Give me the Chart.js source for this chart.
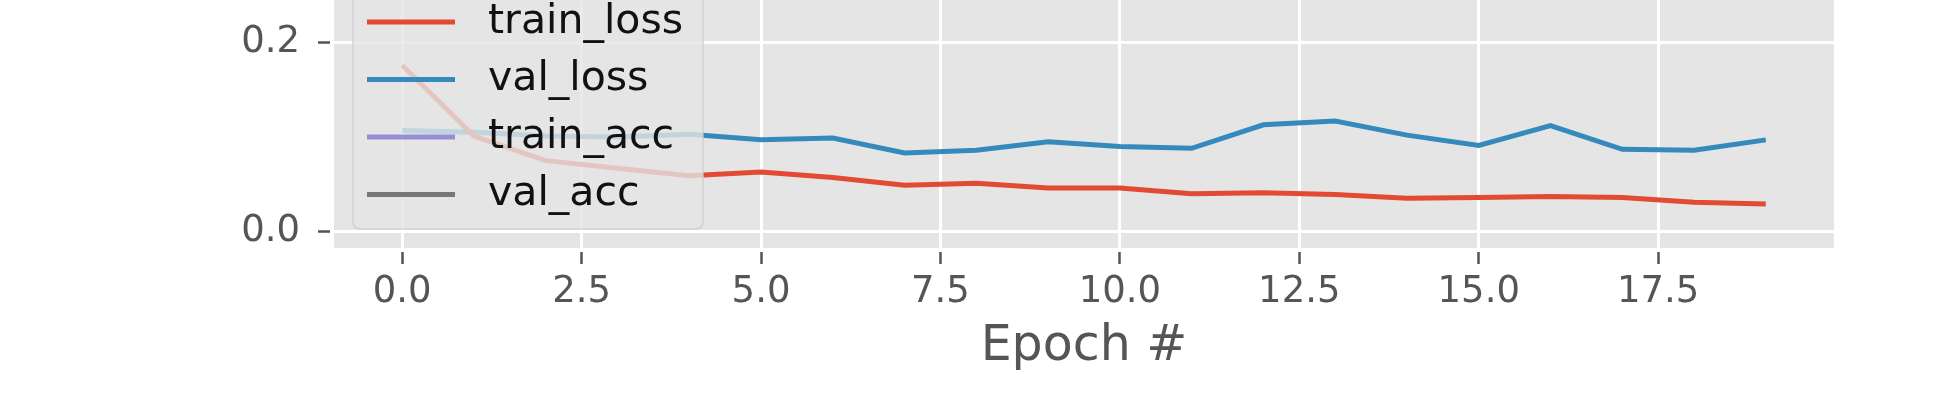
<!DOCTYPE html>
<html>
<head>
<meta charset="utf-8">
<script src="https://cdn.jsdelivr.net/npm/chart.js@4.4.0/dist/chart.umd.min.js"></script>
<style>
html,body{margin:0;padding:0;background:#ffffff;overflow:hidden}
canvas{display:block}
</style>
</head>
<body>
<canvas id="c" width="1951" height="420"></canvas>
<script>
// ---- data ----
const epochs = [0,1,2,3,4,5,6,7,8,9,10,11,12,13,14,15,16,17,18,19];
const trainLoss = [0.176,0.101,0.075,0.067,0.059,0.063,0.057,0.049,0.051,0.046,0.046,0.040,0.041,0.039,0.035,0.036,0.037,0.036,0.031,0.029];
const valLoss   = [0.107,0.105,0.101,0.100,0.103,0.097,0.099,0.083,0.086,0.095,0.090,0.088,0.113,0.117,0.102,0.091,0.112,0.087,0.086,0.097];
// accuracy curves lie above the visible (cropped) window; values not readable
const trainAcc = [];
const valAcc = [];
const seriesNames = ['train_loss','val_loss','train_acc','val_acc'];
const seriesColors = ['#E24A33','#348ABD','#988ED5','#777777'];
const xTickValues = [0.0,2.5,5.0,7.5,10.0,12.5,15.0,17.5];
const yTickValues = [0.0,0.2];
const xTitle = 'Epoch #';

const FONT = "'DejaVu Sans', sans-serif";
const seriesValues = [trainLoss, valLoss, trainAcc, valAcc];

const datasets = seriesNames.map((name, i) => ({
  label: name,
  data: seriesValues[i].map((v, j) => ({x: epochs[j], y: v})),
  borderColor: seriesColors[i],
  backgroundColor: seriesColors[i],
  borderWidth: 5,
  pointRadius: 0,
  tension: 0,
  fill: false
}));

const bgPlugin = {
  id: 'bg',
  beforeDraw(chart) {
    const {ctx, chartArea: a} = chart;
    ctx.save();
    ctx.fillStyle = '#E5E5E5';
    ctx.fillRect(a.left, a.top, a.right - a.left, a.bottom - a.top);
    ctx.restore();
  }
};

const legendPlugin = {
  id: 'mplLegend',
  afterDatasetsDraw(chart) {
    const {ctx, chartArea: a} = chart;
    const left = a.left + 19, right = a.left + 369;
    const bottom = a.bottom - 19, top = bottom - 260;
    const r = 8;
    ctx.save();
    ctx.beginPath();
    ctx.moveTo(left + r, top);
    ctx.lineTo(right - r, top);
    ctx.quadraticCurveTo(right, top, right, top + r);
    ctx.lineTo(right, bottom - r);
    ctx.quadraticCurveTo(right, bottom, right - r, bottom);
    ctx.lineTo(left + r, bottom);
    ctx.quadraticCurveTo(left, bottom, left, bottom - r);
    ctx.lineTo(left, top + r);
    ctx.quadraticCurveTo(left, top, left + r, top);
    ctx.closePath();
    ctx.fillStyle = 'rgba(229,229,229,0.8)';
    ctx.fill();
    ctx.strokeStyle = 'rgba(204,204,204,0.8)';
    ctx.lineWidth = 1.5;
    ctx.stroke();
    const ds = chart.data.datasets;
    const n = ds.length;
    ds.forEach((d, i) => {
      const y = bottom - 34.5 - (n - 1 - i) * 57.5;
      ctx.strokeStyle = d.borderColor;
      ctx.lineWidth = 5;
      ctx.beginPath();
      ctx.moveTo(left + 14, y);
      ctx.lineTo(left + 102, y);
      ctx.stroke();
      ctx.fillStyle = '#111111';
      ctx.font = '41px ' + FONT;
      ctx.textBaseline = 'middle';
      ctx.textAlign = 'left';
      ctx.fillText(d.label, left + 135, y);
    });
    ctx.restore();
  }
};

function noPad(s) {
  s.paddingTop = 0; s.paddingBottom = 0; s.paddingLeft = 0; s.paddingRight = 0;
}

new Chart(document.getElementById('c'), {
  type: 'line',
  data: {datasets},
  plugins: [bgPlugin, legendPlugin],
  options: {
    responsive: false,
    animation: false,
    layout: {padding: {left: 0, right: 117, top: 0, bottom: 0}, autoPadding: false},
    plugins: {legend: {display: false}, tooltip: {enabled: false}},
    scales: {
      x: {
        type: 'linear',
        min: -0.95,
        max: 19.95,
        afterBuildTicks: s => { s.ticks = xTickValues.map(v => ({value: v})); },
        afterFit: s => { s.height = 172; noPad(s); },
        border: {display: false},
        grid: {color: '#FFFFFF', lineWidth: 3, drawTicks: true, tickLength: 16,
               tickColor: '#555555', tickWidth: 2.5, tickBorderDash: [0, 4, 12, 100]},
        ticks: {callback: v => Number(v).toFixed(1), color: '#555555',
                font: {family: FONT, size: 37}, padding: 6, maxRotation: 0, autoSkip: false},
        title: {display: true, text: xTitle, color: '#555555',
                font: {family: FONT, size: 49}, padding: {top: 0, bottom: 43.6}}
      },
      y: {
        type: 'linear',
        min: -0.0176,
        max: 0.2452,
        afterBuildTicks: s => { s.ticks = yTickValues.map(v => ({value: v})); },
        afterFit: s => { s.width = 334; noPad(s); },
        border: {display: false},
        grid: {color: '#FFFFFF', lineWidth: 3, drawTicks: true, tickLength: 16,
               tickColor: '#555555', tickWidth: 2.5, tickBorderDash: [12, 100]},
        ticks: {callback: v => Number(v).toFixed(1), color: '#555555',
                font: {family: FONT, size: 37}, padding: 18}
      }
    }
  }
});
</script>
</body>
</html>
